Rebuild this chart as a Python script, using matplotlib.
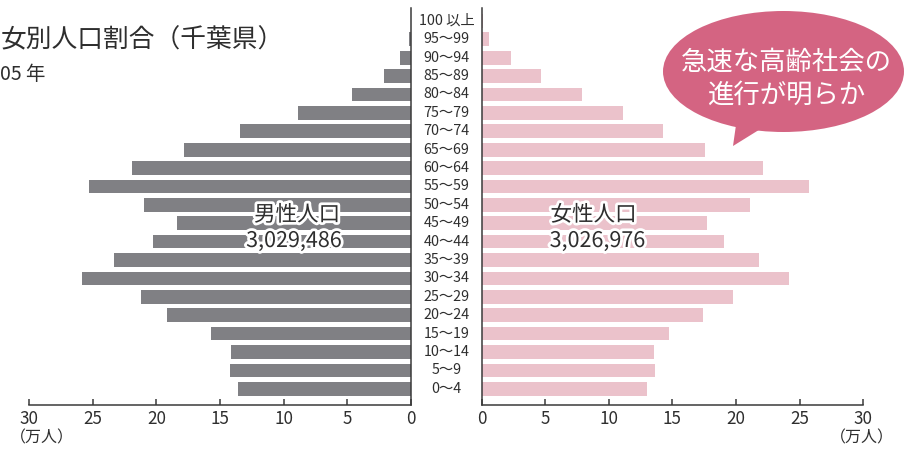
import numpy as np
import matplotlib
matplotlib.use("Agg")
import matplotlib.pyplot as plt
import matplotlib.patheffects as pe
from matplotlib.patches import Ellipse, Polygon
from matplotlib.transforms import blended_transform_factory

plt.rcParams['font.family'] = ['Noto Sans CJK JP', 'DejaVu Sans']

#%% data (万人), youngest first
age_labels = ['0〜4', '5〜9', '10〜14', '15〜19', '20〜24', '25〜29', '30〜34',
              '35〜39', '40〜44', '45〜49', '50〜54', '55〜59', '60〜64', '65〜69',
              '70〜74', '75〜79', '80〜84', '85〜89', '90〜94', '95〜99', '100 以上']
male = [13.6, 14.2, 14.1, 15.7, 19.2, 21.2, 25.8, 23.3, 20.3, 18.4, 21.0,
        25.3, 21.9, 17.8, 13.4, 8.9, 4.6, 2.1, 0.85, 0.15, 0.03]
female = [13.0, 13.6, 13.55, 14.7, 17.4, 19.8, 24.2, 21.8, 19.05, 17.7, 21.1,
          25.7, 22.1, 17.6, 14.3, 11.1, 7.9, 4.7, 2.3, 0.57, 0.1]
x_ticks = [0, 5, 10, 15, 20, 25, 30]

male_color = '#808084'
female_color = '#ebc2cb'
axis_color = '#3a3a3a'
text_color = '#2e2e2e'

W, H = 905, 449
fig = plt.figure(figsize=(W / 100, H / 100), dpi=100)

def fx(px):
    return px / W

def fy(py):
    return 1 - py / H

bottom = fy(405)
height = (405 - 8) / H
axL = fig.add_axes([fx(29), bottom, fx(411) - fx(29), height])
axR = fig.add_axes([fx(481.5), bottom, fx(863.3) - fx(481.5), height])

y = np.arange(len(age_labels))

axL.barh(y, male, height=0.745, color=male_color)
axR.barh(y, female, height=0.745, color=female_color)

for ax in (axL, axR):
    ax.set_ylim(-0.88, 20.7)
    ax.set_xticks(x_ticks)
    ax.set_yticks([])
    ax.tick_params(axis='x', direction='in', length=4, width=1.1,
                   color=axis_color, labelsize=12.3, labelcolor=text_color, pad=3.5)
    ax.spines['top'].set_visible(False)
    ax.spines['bottom'].set_color(axis_color)
    ax.spines['bottom'].set_linewidth(1.1)

axL.set_xlim(30, 0)
axR.set_xlim(0, 30)
axL.spines['left'].set_visible(False)
axL.spines['right'].set_color(axis_color)
axL.spines['right'].set_linewidth(1.1)
axR.spines['right'].set_visible(False)
axR.spines['left'].set_color(axis_color)
axR.spines['left'].set_linewidth(1.1)

# age labels between the two halves
tr = blended_transform_factory(fig.transFigure, axL.transData)
for i, lab in enumerate(age_labels):
    axL.text(fx(446.5), i, lab, transform=tr, ha='center', va='center',
             fontsize=10.3, color=text_color, clip_on=False)

# units
fig.text(fx(42), fy(438), '（万人）', ha='center', va='center', fontsize=11.5, color=text_color)
fig.text(fx(862), fy(438), '（万人）', ha='center', va='center', fontsize=11.5, color=text_color)

# title
fig.text(fx(1), fy(40), '女別人口割合（千葉県）', ha='left', va='center', fontsize=18.5, color=text_color)
fig.text(fx(0), fy(75), '05 年', ha='left', va='center', fontsize=14, color=text_color)

# totals
stroke = [pe.withStroke(linewidth=4, foreground='white')]
for xc, yc, s in [(297, 215, '男性人口'), (294, 241, '3,029,486'),
                  (593.5, 215, '女性人口'), (597.5, 241, '3,026,976')]:
    fig.text(fx(xc), fy(yc), s, ha='center', va='center', fontsize=15.5,
             color=text_color, path_effects=stroke)

# speech bubble
bubble_color = '#d46482'
tail = Polygon([[fx(736), fy(125)], [fx(762), fy(128)], [fx(733), fy(146)]],
               closed=True, transform=fig.transFigure, facecolor=bubble_color,
               edgecolor='none')
fig.patches.append(tail)
ell = Ellipse((fx(783.5), fy(71.5)), fx(241), 121 / H, transform=fig.transFigure,
              facecolor=bubble_color, edgecolor='none')
fig.patches.append(ell)
fig.text(fx(786), fy(62), '急速な高齢社会の', ha='center', va='center',
         fontsize=19, color='white')
fig.text(fx(786), fy(95), '進行が明らか', ha='center', va='center',
         fontsize=19, color='white')

fig.savefig('out.png', dpi=100)
